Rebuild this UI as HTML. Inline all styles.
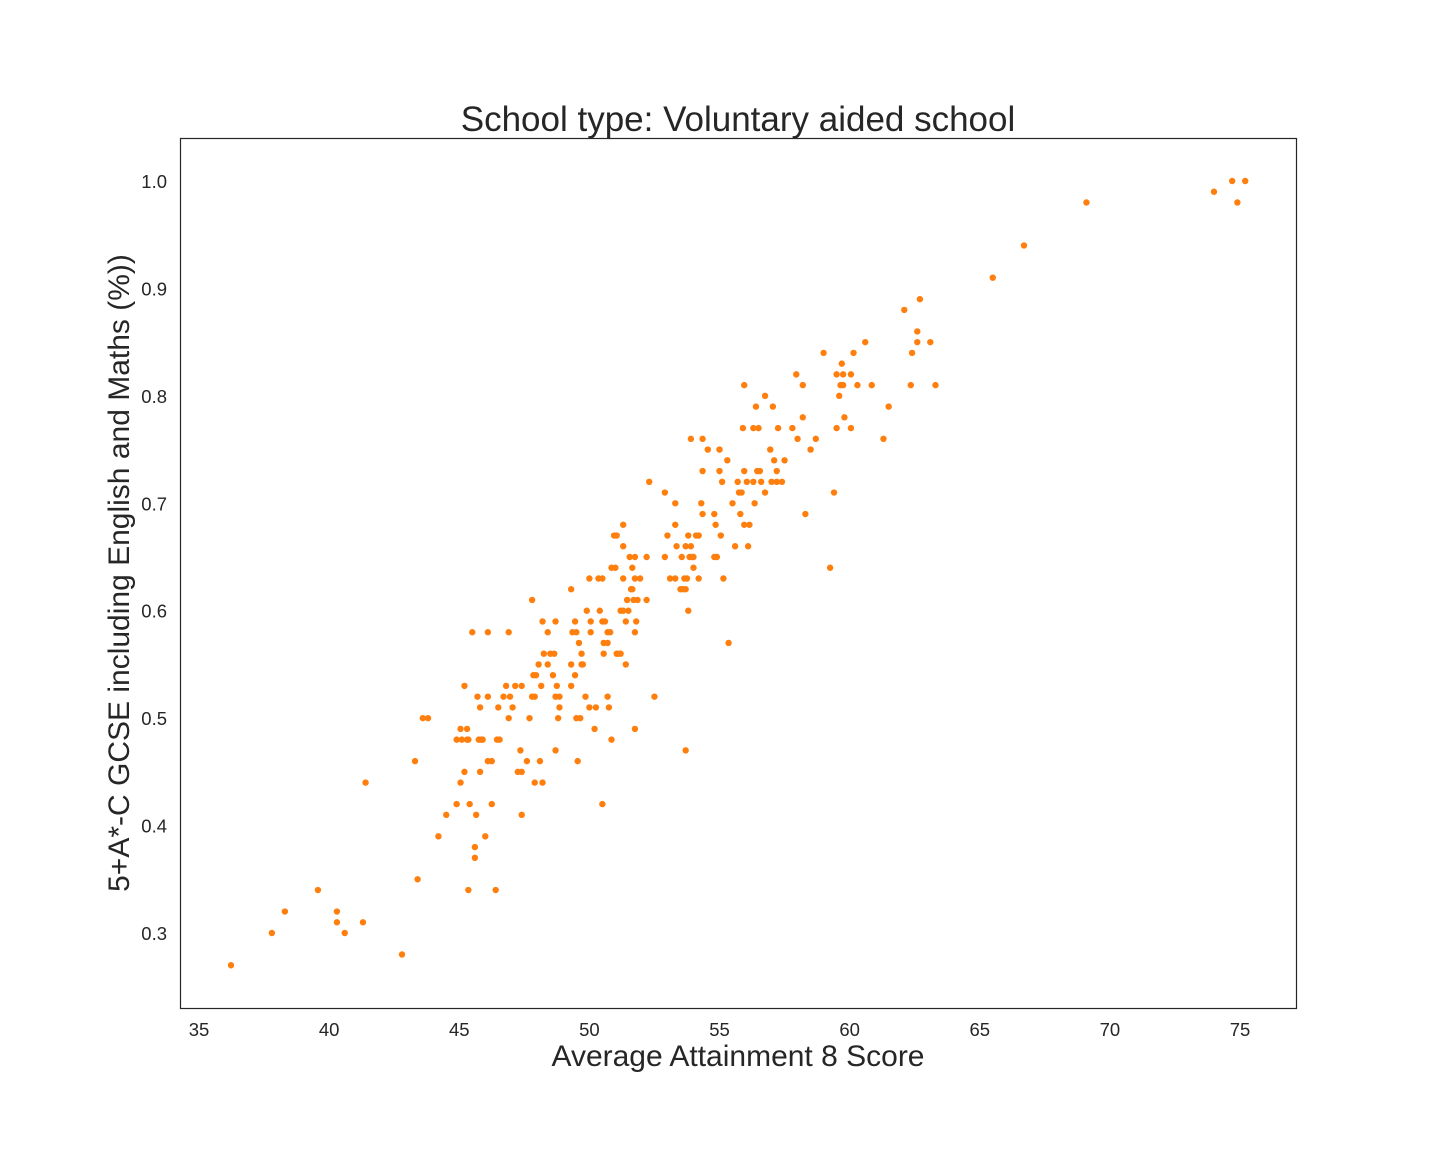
<!DOCTYPE html>
<html><head><meta charset="utf-8"><style>
body{margin:0;background:#fff;}
svg{display:block;font-family:"Liberation Sans",sans-serif;}
</style></head><body>
<svg id="chart" width="1440" height="1152" xmlns="http://www.w3.org/2000/svg">
<rect width="1440" height="1152" fill="#fff"/>
<text x="738" y="131" font-size="35" fill="#262626" text-anchor="middle">School type: Voluntary aided school</text>
<rect x="180.5" y="138.5" width="1116" height="870" fill="none" stroke="#262626" stroke-width="1.2"/>
<g id="xticks"></g>
<g id="yticks"></g>
<g id="points"></g>
<text x="738" y="1066" font-size="30" fill="#262626" text-anchor="middle">Average Attainment 8 Score</text>
<text transform="translate(129,573) rotate(-90)" font-size="30" fill="#262626" text-anchor="middle">5+A*-C GCSE including English and Maths (%))</text>
</svg>
<script>
const xTicks=[35,40,45,50,55,60,65,70,75];
const yTicks=[0.3,0.4,0.5,0.6,0.7,0.8,0.9,1.0];
const xVals=[36.23,37.8,38.3,39.57,40.3,40.3,40.6,41.3,41.4,42.8,43.3,43.4,43.6,43.8,44.2,44.5,44.9,44.9,45.05,45.05,45.1,45.2,45.2,45.3,45.3,45.35,45.35,45.4,45.5,45.6,45.6,45.65,45.7,45.75,45.8,45.8,45.85,45.9,46.0,46.1,46.1,46.1,46.25,46.25,46.4,46.45,46.5,46.55,46.7,46.8,46.9,46.9,46.95,47.05,47.15,47.25,47.35,47.4,47.4,47.4,47.6,47.7,47.8,47.8,47.85,47.9,47.9,47.95,48.05,48.1,48.15,48.2,48.2,48.25,48.4,48.4,48.5,48.6,48.65,48.7,48.7,48.7,48.75,48.8,48.85,48.85,49.3,49.3,49.3,49.35,49.45,49.45,49.5,49.5,49.55,49.6,49.65,49.7,49.7,49.75,49.85,49.9,50.0,50.0,50.05,50.05,50.2,50.25,50.35,50.4,50.5,50.5,50.5,50.55,50.55,50.6,50.7,50.7,50.7,50.75,50.8,50.85,50.85,50.95,51.0,51.05,51.05,51.1,51.2,51.2,51.3,51.3,51.3,51.3,51.4,51.4,51.45,51.5,51.55,51.6,51.65,51.65,51.7,51.75,51.75,51.75,51.75,51.8,51.85,51.95,52.2,52.2,52.3,52.5,52.9,52.9,53.0,53.1,53.3,53.3,53.3,53.35,53.5,53.55,53.6,53.65,53.7,53.7,53.7,53.75,53.8,53.8,53.85,53.9,53.9,53.95,54.0,54.0,54.1,54.2,54.2,54.3,54.35,54.35,54.35,54.55,54.8,54.8,54.85,54.9,55.0,55.0,55.05,55.1,55.15,55.3,55.35,55.5,55.6,55.7,55.75,55.8,55.85,55.9,55.95,55.95,55.95,56.05,56.1,56.15,56.3,56.3,56.35,56.4,56.45,56.5,56.55,56.6,56.75,56.75,56.95,57.0,57.05,57.1,57.2,57.2,57.25,57.4,57.5,57.8,57.95,58.0,58.2,58.2,58.3,58.5,58.7,59.0,59.25,59.4,59.5,59.5,59.6,59.65,59.7,59.75,59.75,59.8,60.05,60.05,60.15,60.3,60.6,60.85,61.3,61.5,62.1,62.35,62.4,62.6,62.6,62.7,63.1,63.3,65.5,66.7,69.1,74.0,74.7,74.9,75.2];
const yVals=[0.27,0.30,0.32,0.34,0.32,0.31,0.30,0.31,0.44,0.28,0.46,0.35,0.50,0.50,0.39,0.41,0.42,0.48,0.44,0.49,0.48,0.53,0.45,0.48,0.49,0.48,0.34,0.42,0.58,0.38,0.37,0.41,0.52,0.48,0.51,0.45,0.48,0.48,0.39,0.58,0.52,0.46,0.46,0.42,0.34,0.48,0.51,0.48,0.52,0.53,0.50,0.58,0.52,0.51,0.53,0.45,0.47,0.41,0.53,0.45,0.46,0.50,0.61,0.52,0.54,0.52,0.44,0.54,0.55,0.46,0.53,0.59,0.44,0.56,0.58,0.55,0.56,0.54,0.56,0.47,0.59,0.52,0.53,0.50,0.51,0.52,0.62,0.55,0.53,0.58,0.59,0.54,0.50,0.58,0.46,0.57,0.50,0.55,0.56,0.55,0.52,0.60,0.63,0.51,0.58,0.59,0.49,0.51,0.63,0.60,0.42,0.63,0.59,0.56,0.57,0.59,0.52,0.58,0.57,0.51,0.58,0.48,0.64,0.67,0.64,0.67,0.56,0.56,0.60,0.56,0.63,0.68,0.66,0.60,0.55,0.59,0.61,0.60,0.65,0.62,0.62,0.64,0.61,0.58,0.65,0.49,0.63,0.59,0.61,0.63,0.61,0.65,0.72,0.52,0.71,0.65,0.67,0.63,0.63,0.68,0.70,0.66,0.62,0.65,0.62,0.63,0.66,0.47,0.62,0.63,0.60,0.67,0.65,0.76,0.66,0.65,0.64,0.65,0.67,0.63,0.67,0.70,0.73,0.69,0.76,0.75,0.69,0.65,0.68,0.65,0.75,0.73,0.67,0.72,0.63,0.74,0.57,0.70,0.66,0.72,0.71,0.69,0.71,0.77,0.81,0.73,0.68,0.72,0.66,0.68,0.72,0.77,0.70,0.79,0.73,0.77,0.73,0.72,0.71,0.80,0.75,0.72,0.79,0.74,0.72,0.73,0.77,0.72,0.74,0.77,0.82,0.76,0.78,0.81,0.69,0.75,0.76,0.84,0.64,0.71,0.82,0.77,0.80,0.81,0.83,0.81,0.82,0.78,0.82,0.77,0.84,0.81,0.85,0.81,0.76,0.79,0.88,0.81,0.84,0.86,0.85,0.89,0.85,0.81,0.91,0.94,0.98,0.99,1.00,0.98,1.00];
const NS='http://www.w3.org/2000/svg';
function xs(v){return 199+(v-35)*26.025;}
function ys(v){return 181+(1.0-v)*1074.3;}
const xg=document.getElementById('xticks'),yg=document.getElementById('yticks'),pg=document.getElementById('points');
xTicks.forEach(t=>{const e=document.createElementNS(NS,'text');


e.setAttribute('x',xs(t));e.setAttribute('y',1036);e.setAttribute('font-size','18.5');e.setAttribute('fill','#262626');e.setAttribute('text-anchor','middle');e.textContent=t;xg.appendChild(e);});
yTicks.forEach(t=>{const e=document.createElementNS(NS,'text');


e.setAttribute('x',167);e.setAttribute('y',ys(t)+7);e.setAttribute('font-size','18.5');e.setAttribute('fill','#262626');e.setAttribute('text-anchor','end');e.textContent=t.toFixed(1);yg.appendChild(e);});
xVals.forEach((v,i)=>{const c=document.createElementNS(NS,'circle');


c.setAttribute('cx',xs(v));c.setAttribute('cy',ys(yVals[i]));c.setAttribute('r',3.2);c.setAttribute('fill','#ff7f0e');pg.appendChild(c);});
</script>
</body></html>
